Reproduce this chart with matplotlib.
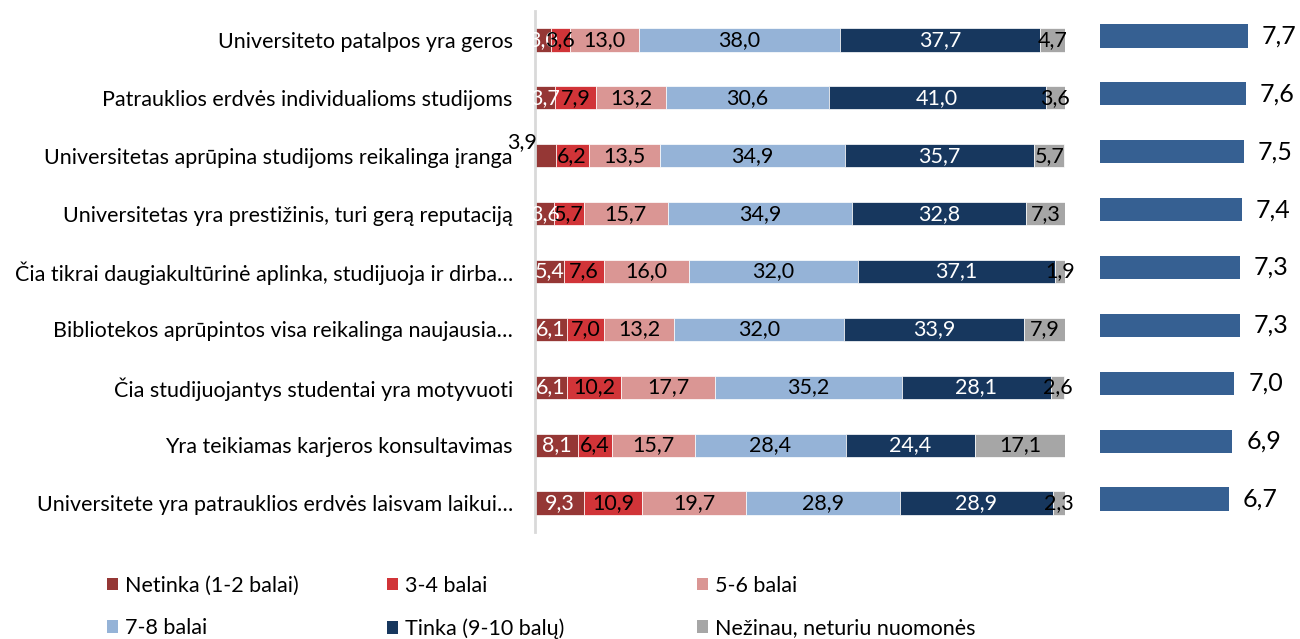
import matplotlib.pyplot as plt
from matplotlib.patches import Patch
import numpy as np

plt.rcParams['font.family'] = ['Lato', 'DejaVu Sans']

# data (top to bottom)
categories = [
    "Universiteto patalpos yra geros",
    "Patrauklios erdvės individualioms studijoms",
    "Universitetas aprūpina studijoms reikalinga įranga",
    "Universitetas yra prestižinis, turi gerą reputaciją",
    "Čia tikrai daugiakultūrinė aplinka, studijuoja ir dirba…",
    "Bibliotekos aprūpintos visa reikalinga naujausia…",
    "Čia studijuojantys studentai yra motyvuoti",
    "Yra teikiamas karjeros konsultavimas",
    "Universitete yra patrauklios erdvės laisvam laikui…",
]
netinka = [3.0, 3.7, 3.9, 3.6, 5.4, 6.1, 6.1, 8.1, 9.3]
balai_34 = [3.6, 7.9, 6.2, 5.7, 7.6, 7.0, 10.2, 6.4, 10.9]
balai_56 = [13.0, 13.2, 13.5, 15.7, 16.0, 13.2, 17.7, 15.7, 19.7]
balai_78 = [38.0, 30.6, 34.9, 34.9, 32.0, 32.0, 35.2, 28.4, 28.9]
tinka = [37.7, 41.0, 35.7, 32.8, 37.1, 33.9, 28.1, 24.4, 28.9]
nezinau = [4.7, 3.6, 5.7, 7.3, 1.9, 7.9, 2.6, 17.1, 2.3]
vidurkis = [7.7, 7.6, 7.5, 7.4, 7.3, 7.3, 7.0, 6.9, 6.7]

series = [
    ("Netinka (1-2 balai)", netinka, '#953735', 'white'),
    ("3-4 balai", balai_34, '#D13438', 'black'),
    ("5-6 balai", balai_56, '#DA9694', 'black'),
    ("7-8 balai", balai_78, '#95B3D7', 'black'),
    ("Tinka (9-10 balų)", tinka, '#17375E', 'white'),
    ("Nežinau, neturiu nuomonės", nezinau, '#A6A6A6', 'black'),
]

fig = plt.figure(figsize=(13, 6.39), dpi=100)
ax = fig.add_axes([535 / 1300, 1 - 532 / 639, 530 / 1300, 521 / 639])
ax2 = fig.add_axes([1100 / 1300, 1 - 528 / 639, 192 / 1300, 521 / 639])

y = np.arange(len(categories))
left = np.zeros(len(categories))
handles = []
for name, vals, color, tcolor in series:
    vals = np.array(vals)
    bars = ax.barh(y, vals, left=left, height=0.4, color=color,
                   edgecolor='white', linewidth=0.5)
    labels = [f"{v:.1f}".replace('.', ',') for v in vals]
    anns = ax.bar_label(bars, labels=labels, label_type='center',
                        color=tcolor, fontsize=15.5)
    if name.startswith("Netinka"):
        # Excel pushed this label out of the bar
        anns[2].xyann = (-17, 10)
        anns[2].set_color('black')
    left += vals
    handles.append(Patch(facecolor=color, label=name))

ax.set_xlim(0, 100)
ax.set_ylim(len(categories) - 0.5, -0.5)
ax.set_yticks(y)
ax.set_yticklabels(categories, fontsize=15.5)
ax.tick_params(axis='y', length=0, pad=16)
ax.set_xticks([])
for s in ['top', 'right', 'bottom']:
    ax.spines[s].set_visible(False)
ax.spines['left'].set_color('#D9D9D9')
ax.spines['left'].set_linewidth(2)

# averages
rb = ax2.barh(y, vidurkis, height=0.4, color='#366092')
ax2.bar_label(rb, labels=[f"{v:.1f}".replace('.', ',') for v in vidurkis],
              padding=10, fontsize=18)
ax2.set_xlim(0, 10)
ax2.set_ylim(len(categories) - 0.5, -0.5)
ax2.axis('off')

# legend laid out row-wise in three columns
col_x = [98 / 1300, 378 / 1300, 688 / 1300]
for i, x in enumerate(col_x):
    fig.legend(handles=[handles[i], handles[i + 3]], loc='upper left',
               bbox_to_anchor=(x, 1 - 567 / 639), frameon=False,
               fontsize=15.5, handlelength=0.55, handleheight=0.55,
               handletextpad=0.3, labelspacing=1.05, borderaxespad=0)

fig.savefig('out.png', dpi=100)
